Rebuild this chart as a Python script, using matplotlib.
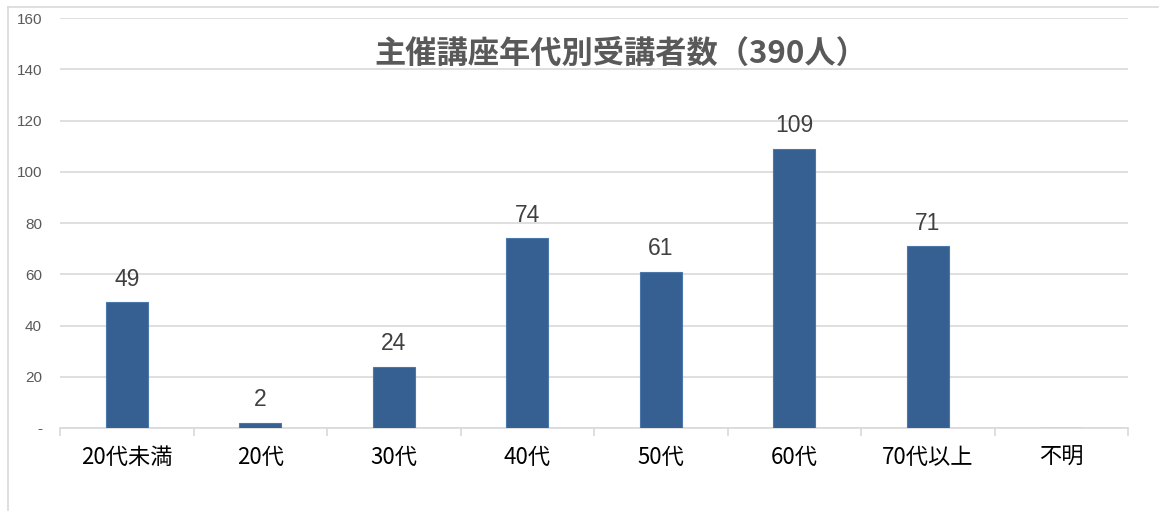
import matplotlib.pyplot as plt
import numpy as np
from matplotlib.lines import Line2D

plt.rcParams['font.family'] = ['Noto Sans CJK JP', 'DejaVu Sans']

categories = ['20代未満', '20代', '30代', '40代', '50代', '60代', '70代以上', '不明']
values = [49, 2, 24, 74, 61, 109, 71, 0]
yticks = [0, 20, 40, 60, 80, 100, 120, 140, 160]
ytick_labels = ['-', '20', '40', '60', '80', '100', '120', '140', '160']
title = '主催講座年代別受講者数（390人）'

fig = plt.figure(figsize=(11.61, 5.11), dpi=100)
ax = fig.add_axes([60/1161, 1-428/511, (1128-60)/1161, (428-18)/511])

x = np.arange(len(categories))
bars = ax.bar(x, values, width=0.315, color='#376092', edgecolor='#4a78ad', linewidth=0.8, zorder=3)
for xi, v in zip(x, values):
    if v > 0:
        ax.text(xi, v + 4.5, str(v), ha='center', va='bottom', fontsize=16.5,
                color='#404040', family=['Liberation Sans', 'DejaVu Sans'])

ax.set_xlim(-0.5, len(categories) - 0.5)
ax.set_ylim(0, 160)
ax.set_yticks(yticks)
ax.set_yticklabels(ytick_labels, fontsize=11, color='#595959', family=['Liberation Sans', 'DejaVu Sans'])
ax.yaxis.grid(True, color='#d9d9d9', linewidth=1.2, zorder=0)
ax.tick_params(axis='y', length=0, pad=13)

ax.set_xticks(x)
ax.set_xticklabels(categories, fontsize=16, color='black')
ax.set_xticks(np.arange(-0.5, len(categories)), minor=True)
ax.tick_params(axis='x', which='major', length=0, pad=13)
ax.tick_params(axis='x', which='minor', length=6, color='#d9d9d9', width=1.2)

for s in ['top', 'right', 'left']:
    ax.spines[s].set_visible(False)
ax.spines['bottom'].set_color('#d9d9d9')
ax.spines['bottom'].set_linewidth(1.2)

ax.text(0.525, 0.912, title, transform=ax.transAxes, ha='center', va='center',
        fontsize=22.5, fontweight='bold', color='#595959')

# outer chart frame
fig.add_artist(Line2D([8/1161, 1158/1161], [1-7/511, 1-7/511], color='#d9d9d9', linewidth=1.2))
fig.add_artist(Line2D([8/1161, 8/1161], [1-7/511, 0], color='#d9d9d9', linewidth=1.2))

fig.savefig('out.png', dpi=100)
